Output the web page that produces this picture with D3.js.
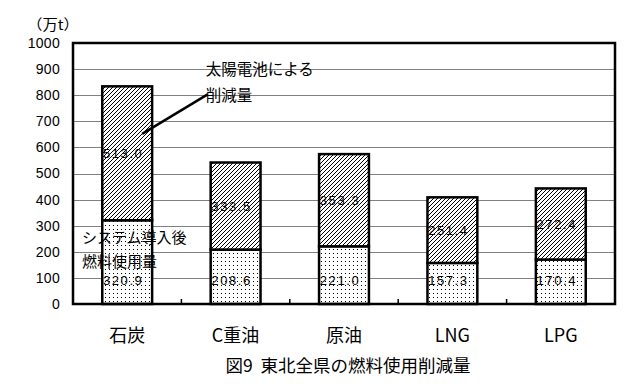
<!DOCTYPE html>
<html><head><meta charset="utf-8">
<script src="https://cdn.jsdelivr.net/npm/d3@7/dist/d3.min.js"></script>
<style>
html,body{margin:0;padding:0;background:#fff;}
svg{display:block;}
text{fill:#000;}
</style></head>
<body>
<svg id="chart" width="641" height="384"></svg>
<script>
const categories = ["石炭", "C重油", "原油", "LNG", "LPG"];
const afterUse = [320.9, 208.6, 221.0, 157.3, 170.4];
const reduction = [513.0, 333.5, 353.3, 251.4, 272.4];
const yTicks = [0, 100, 200, 300, 400, 500, 600, 700, 800, 900, 1000];
const unitLabel = "（万t）";
const title = "図9  東北全県の燃料使用削減量";
const noteSolar = ["太陽電池による", "削減量"];
const noteAfter = ["システム導入後", "燃料使用量"];

const jp = "'Noto Sans CJK JP', sans-serif";
const num = "'Liberation Sans', Arial, sans-serif";

const svg = d3.select("#chart");
const L = 73, R = 615, T = 43, B = 304;

const x = d3.scaleBand().domain(categories).range([L, R]).paddingInner(0.54).paddingOuter(0.27);
const y = d3.scaleLinear().domain([0, 1000]).range([B, T]);

const defs = svg.append("defs");
const hatch = defs.append("pattern").attr("id", "hatch").attr("patternUnits", "userSpaceOnUse")
  .attr("width", 4).attr("height", 4);
hatch.append("rect").attr("width", 4).attr("height", 4).attr("fill", "#fff");
hatch.append("path").attr("d", "M0,4 L4,0 M-1,1 L1,-1 M3,5 L5,3")
  .attr("stroke", "#000").attr("stroke-width", 1).attr("shape-rendering", "crispEdges");
const dots = defs.append("pattern").attr("id", "dots").attr("patternUnits", "userSpaceOnUse")
  .attr("width", 4).attr("height", 4);
dots.append("rect").attr("width", 4).attr("height", 4).attr("fill", "#fff");
dots.append("rect").attr("x", 1).attr("y", 1).attr("width", 1).attr("height", 1).attr("fill", "#000");

// gridlines
svg.append("g").selectAll("line").data(yTicks.filter(d => d > 0 && d < 1000)).join("line")
  .attr("x1", L).attr("x2", R).attr("y1", d => Math.round(y(d)) + 0.5).attr("y2", d => Math.round(y(d)) + 0.5)
  .attr("stroke", "#808080").attr("stroke-width", 1);

// y axis labels
const yAxis = d3.axisLeft(y).tickValues(yTicks).tickSize(0).tickPadding(13).tickFormat(d3.format("d"));
const ya = svg.append("g").attr("transform", `translate(${L},0)`).call(yAxis);
ya.select(".domain").remove();
ya.selectAll("text").attr("font-family", num).attr("font-size", 14).attr("letter-spacing", 0.3).attr("fill", "#000");

// x axis
const xAxis = d3.axisBottom(x).tickSize(0).tickPadding(25);
const xa = svg.append("g").attr("transform", `translate(0,${B})`).call(xAxis);
xa.select(".domain").remove();
xa.selectAll("text").attr("font-family", jp).attr("font-size", 18).attr("fill", "#000");

// inner tick marks between categories
svg.append("g").selectAll("line").data(categories.slice(1)).join("line")
  .attr("x1", c => x(c) - (x.step() - x.bandwidth()) / 2).attr("x2", c => x(c) - (x.step() - x.bandwidth()) / 2)
  .attr("y1", B).attr("y2", B - 5).attr("stroke", "#000").attr("stroke-width", 1.5);

// bars
const rows = categories.map((c, i) => ({c, a: afterUse[i], r: reduction[i]}));
const g = svg.append("g");
g.selectAll("rect.after").data(rows).join("rect").attr("class", "after")
  .attr("x", d => x(d.c)).attr("width", x.bandwidth())
  .attr("y", d => y(d.a)).attr("height", d => y(0) - y(d.a))
  .attr("fill", "url(#dots)").attr("stroke", "#000").attr("stroke-width", 2.5);
g.selectAll("rect.red").data(rows).join("rect").attr("class", "red")
  .attr("x", d => x(d.c)).attr("width", x.bandwidth())
  .attr("y", d => y(d.a + d.r)).attr("height", d => y(d.a) - y(d.a + d.r))
  .attr("fill", "url(#hatch)").attr("stroke", "#000").attr("stroke-width", 2.5);

// value labels
g.selectAll("text.al").data(rows).join("text").attr("class", "al")
  .attr("x", d => x(d.c) + x.bandwidth() / 2 - 4).attr("y", y(0) - 24 + 5)
  .attr("text-anchor", "middle").attr("font-family", num).attr("font-size", 13).attr("letter-spacing", 1.6)
  .text(d => d3.format(".1f")(d.a));
g.selectAll("text.rl").data(rows).join("text").attr("class", "rl")
  .attr("x", d => x(d.c) + x.bandwidth() / 2 - 4).attr("y", d => y(d.a + d.r / 2) + 5)
  .attr("text-anchor", "middle").attr("font-family", num).attr("font-size", 13).attr("letter-spacing", 1.6)
  .text(d => d3.format(".1f")(d.r));

// plot border
svg.append("rect").attr("x", L).attr("y", T).attr("width", R - L).attr("height", B - T)
  .attr("fill", "none").attr("stroke", "#000").attr("stroke-width", 2.5);

// unit label
svg.append("text").attr("x", 27).attr("y", 30).attr("font-family", jp).attr("font-size", 14.5)
  .attr("textLength", 52).attr("lengthAdjust", "spacingAndGlyphs").text(unitLabel);

// annotation: solar
const sx = x(categories[1]) - 5;
svg.append("line")
  .attr("x1", x(categories[0]) + x.bandwidth() * 0.8).attr("y1", y(652))
  .attr("x2", x(categories[1]) - 3).attr("y2", y(803))
  .attr("stroke", "#000").attr("stroke-width", 2.5);
svg.append("g").selectAll("text").data(noteSolar).join("text")
  .attr("x", sx).attr("y", (d, i) => y(900 - i * 100) + 6)
  .attr("font-family", jp).attr("font-size", 15.5).text(d => d);

// annotation: after
svg.append("g").selectAll("text").data(noteAfter).join("text")
  .attr("x", L + 9).attr("y", (d, i) => y(255 - i * 90) + 6)
  .attr("font-family", jp).attr("font-size", 15).text(d => d);

// title
svg.append("text").attr("x", (L + R) / 2 + 4).attr("y", 372).attr("text-anchor", "middle")
  .attr("font-family", jp).attr("font-size", 17.5).style("white-space", "pre").text(title);
</script>
</body></html>
